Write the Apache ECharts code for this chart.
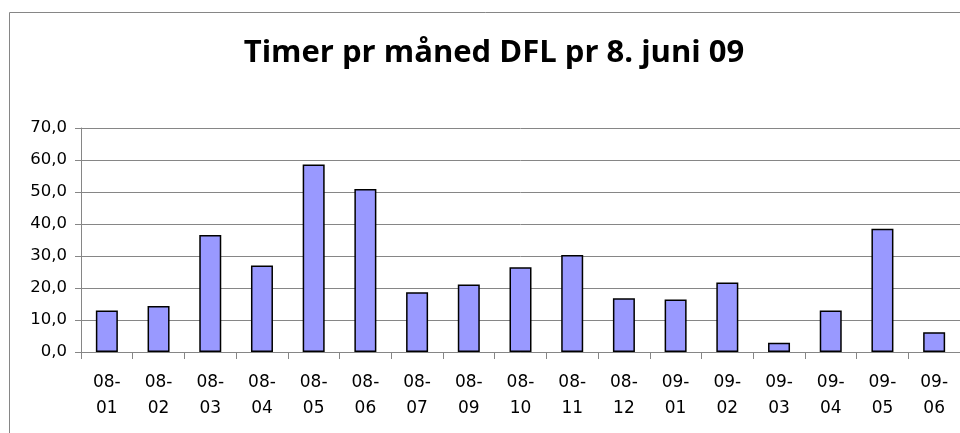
<!DOCTYPE html>
<html>
<head>
<meta charset="utf-8">
<script src="https://cdn.jsdelivr.net/npm/echarts@6/dist/echarts.min.js"></script>
<style>
  html, body { margin: 0; padding: 0; background: #fff; }
  #chart { width: 960px; height: 433px; }
</style>
</head>
<body>
<div id="chart"></div>
<script>
// Timer pr måned, DFL
const months = ['08-01', '08-02', '08-03', '08-04', '08-05', '08-06', '08-07', '08-09', '08-10',
  '08-11', '08-12', '09-01', '09-02', '09-03', '09-04', '09-05', '09-06'];
const hours = [13.0, 14.4, 36.6, 27.0, 58.6, 50.9, 18.7, 21.1, 26.5,
  30.3, 16.8, 16.4, 21.7, 2.9, 13.0, 38.5, 6.2];
const yTicks = [0, 10, 20, 30, 40, 50, 60, 70];

const axisGrey = '#868686';
const labelFont = 'DejaVu Sans, Verdana, sans-serif';

const chart = echarts.init(document.getElementById('chart'));

chart.setOption({
  animation: false,
  title: {
    text: 'Timer pr måned DFL pr 8. juni 09',
    left: 489,
    top: 33,
    textAlign: 'center',
    textStyle: { fontFamily: 'Open Sans', fontWeight: 'bold', fontSize: 31, color: '#000' }
  },
  graphic: [{
    type: 'rect',
    shape: { x: 9.5, y: 12.5, width: 1000, height: 1000 },
    style: { fill: 'none', stroke: axisGrey, lineWidth: 1 },
    silent: true
  }],
  grid: { left: 81, right: 0, top: 128, bottom: 81 },
  xAxis: {
    type: 'category',
    data: months,
    axisLine: { lineStyle: { color: axisGrey, width: 1 } },
    axisTick: { show: true, length: 7, interval: 0, lineStyle: { color: axisGrey } },
    axisLabel: {
      interval: 0,
      margin: 18,
      color: '#000',
      fontFamily: labelFont,
      fontSize: 17,
      lineHeight: 26,
      formatter: (v) => v.replace('-', '-\n')
    }
  },
  yAxis: {
    type: 'value',
    min: yTicks[0],
    max: yTicks[yTicks.length - 1],
    interval: 10,
    axisLine: { show: true, lineStyle: { color: axisGrey, width: 1 } },
    axisTick: { show: true, length: 6, lineStyle: { color: axisGrey } },
    splitLine: { lineStyle: { color: axisGrey, width: 1 } },
    axisLabel: {
      margin: 14,
      color: '#000',
      fontFamily: labelFont,
      fontSize: 16.5,
      formatter: (v) => v.toFixed(1).replace('.', ',')
    }
  },
  series: [{
    type: 'bar',
    data: hours,
    barWidth: 22,
    itemStyle: { color: '#9999FF', borderColor: '#000', borderWidth: 1.5 }
  }]
});
</script>
</body>
</html>
